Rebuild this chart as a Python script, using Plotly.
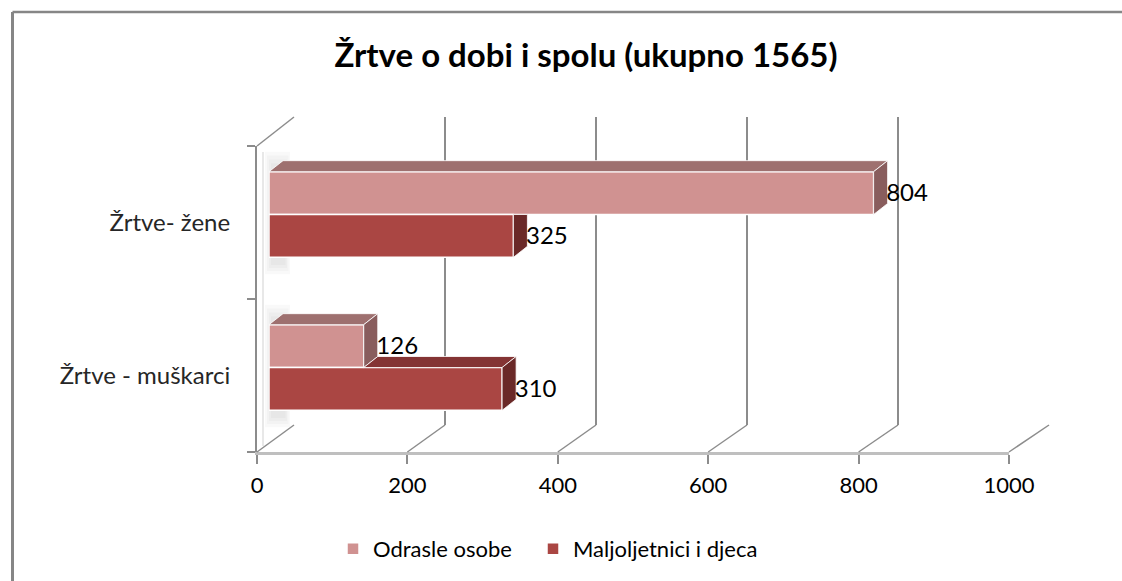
import plotly.graph_objects as go

# ---------------- data ----------------
categories = ["Žrtve - muškarci", "Žrtve- žene"]          # bottom -> top
series_names = ["Odrasle osobe", "Maljoljetnici i djeca"]
odrasle = [126, 804]
maljoljetnici = [310, 325]
x_ticks = [0, 200, 400, 600, 800, 1000]
title_text = "Žrtve o dobi i spolu (ukupno 1565)"

# ---------------- styling / geometry ----------------
W, H = 1122, 581
def fx(px):
    return px / W
def fy(py):
    return 1 - py / H

FONT = "Lato, 'Open Sans', sans-serif"
colors = {
    "Odrasle osobe": dict(front="#D09291", top="#9E706F", side="#895D5D"),
    "Maljoljetnici i djeca": dict(front="#AA4643", top="#843434", side="#6A2928"),
}

FRONT_X0, FRONT_X1 = 257, 1009
FRONT_Y0, FRONT_Y1 = 146, 452
BACK_X0, BACK_X1 = 294, 1049
BACK_Y0, BACK_Y1 = 117, 425
BAR_X0, BAR_X1 = 269, 1021
BAR_Y_TOP, BAR_Y_BOT = 130.35, 451.65
Y_RANGE = [-0.55, 1.55]
X_MAX = 1000
DEPTH_PX, DEPTH_PY = 14, 11
BAR_W = 0.28
LEGEND_X = {"Odrasle osobe": 333, "Maljoljetnici i djeca": 533}
LEGEND_ID = {"Odrasle osobe": "legend", "Maljoljetnici i djeca": "legend2"}

px_per_x = (BAR_X1 - BAR_X0) / X_MAX
px_per_y = (BAR_Y_BOT - BAR_Y_TOP) / (Y_RANGE[1] - Y_RANGE[0])
dx = DEPTH_PX / px_per_x
dy = DEPTH_PY / px_per_y

def front_px(v):
    return FRONT_X0 + v * (FRONT_X1 - FRONT_X0) / X_MAX
def back_px(v):
    return BACK_X0 + v * (BACK_X1 - BACK_X0) / X_MAX

pos = list(range(len(categories)))
GRID = "#8C8C8C"

fig = go.Figure()

fig.add_trace(go.Scatter(x=[None], y=[None], xaxis="x", yaxis="y",
                         showlegend=False, hoverinfo="skip"))
fig.add_trace(go.Scatter(x=[None], y=[None], xaxis="x2", yaxis="y2",
                         showlegend=False, hoverinfo="skip"))

offsets = {"Odrasle osobe": 0.0, "Maljoljetnici i djeca": -BAR_W}
values = {"Odrasle osobe": odrasle, "Maljoljetnici i djeca": maljoljetnici}
for name in series_names:
    fig.add_trace(go.Bar(
        x=values[name], y=pos, orientation="h", name=name,
        width=BAR_W, offset=offsets[name],
        marker=dict(color=colors[name]["front"], line=dict(color="white", width=1.5)),
        xaxis="x3", yaxis="y3", hoverinfo="skip", legend=LEGEND_ID[name],
    ))

def add_poly(xs, ys, color):
    fig.add_trace(go.Scatter(
        x=xs, y=ys, fill="toself", mode="lines", fillcolor=color,
        line=dict(color="rgba(255,255,255,0.8)", width=1),
        xaxis="x3", yaxis="y3", showlegend=False, hoverinfo="skip"))

for i, p in enumerate(pos):
    vo = odrasle[i]
    vm = maljoljetnici[i]
    yb = p + offsets["Odrasle osobe"]
    yt = yb + BAR_W
    c = colors["Odrasle osobe"]
    add_poly([0, vo, vo + dx, dx, 0], [yt, yt, yt + dy, yt + dy, yt], c["top"])
    add_poly([vo, vo, vo + dx, vo + dx, vo], [yb, yt, yt + dy, yb + dy, yb], c["side"])
    yb = p + offsets["Maljoljetnici i djeca"]
    yt = yb + BAR_W
    c = colors["Maljoljetnici i djeca"]
    if vm > vo:
        add_poly([vo, vm, vm + dx, vo + dx, vo], [yt, yt, yt + dy, yt + dy, yt], c["top"])
        add_poly([vm, vm, vm + dx, vm + dx, vm], [yb, yt, yt + dy, yb + dy, yb], c["side"])
    else:
        add_poly([vm, vm, vm + dx, vm + dx, vm], [yb, yt, yt, yb + dy, yb], c["side"])

for name in series_names:
    vals = values[name]
    fig.add_trace(go.Scatter(
        x=[v + dx * 0.9 for v in vals],
        y=[p + offsets[name] + BAR_W / 2 - 0.012 for p in pos],
        mode="text", text=[str(v) for v in vals], textposition="middle right",
        textfont=dict(family=FONT, size=24, color="black"),
        xaxis="x3", yaxis="y3", showlegend=False, hoverinfo="skip"))

# ---------------- shapes: 3D frame ----------------
shapes = []
for v in x_ticks:
    shapes.append(dict(type="line", xref="paper", yref="paper",
                       x0=fx(front_px(v)), y0=fy(FRONT_Y1),
                       x1=fx(back_px(v)), y1=fy(BACK_Y1),
                       line=dict(color=GRID, width=1.5)))
shapes.append(dict(type="line", xref="paper", yref="paper",
                   x0=fx(FRONT_X0), y0=fy(FRONT_Y0), x1=fx(BACK_X0), y1=fy(BACK_Y0),
                   line=dict(color=GRID, width=1.5)))
shapes.append(dict(type="line", xref="paper", yref="paper",
                   x0=fx(263), y0=fy(FRONT_Y0 + 6), x1=fx(263), y1=fy(FRONT_Y1 - 6),
                   line=dict(color="#E8E8E8", width=2), layer="below"))
for p in pos:
    top = p + BAR_W + 0.13
    bot = p - BAR_W - 0.11
    for k in range(4):
        shapes.append(dict(type="rect", xref="paper", yref="y3",
                           x0=fx(265 + 2 * k), x1=fx(290 - 1.5 * k),
                           y0=bot + 0.02 * k, y1=top - 0.025 * k,
                           fillcolor="rgba(0,0,0,0.025)", line=dict(width=0), layer="below"))
shapes.append(dict(type="line", xref="paper", yref="paper",
                   x0=fx(12.5), y0=fy(12), x1=1, y1=fy(12),
                   line=dict(color="#868686", width=2.5)))
shapes.append(dict(type="line", xref="paper", yref="paper",
                   x0=fx(12.5), y0=fy(12), x1=fx(12.5), y1=0,
                   line=dict(color="#868686", width=3)))

legend_common = dict(orientation="h", xanchor="left", y=fy(549), yanchor="middle",
                     font=dict(family=FONT, size=22, color="black"), itemwidth=30,
                     bgcolor="rgba(0,0,0,0)")

fig.update_layout(
    width=W, height=H, autosize=False,
    margin=dict(l=0, r=0, t=0, b=0, pad=0, autoexpand=False),
    paper_bgcolor="white", plot_bgcolor="rgba(0,0,0,0)",
    barmode="overlay",
    font=dict(family=FONT, size=22, color="black"),
    title=dict(text="<b>" + title_text + "</b>", x=fx(586), xanchor="center",
               y=fy(55), yanchor="middle", yref="paper",
               font=dict(family=FONT, size=33, color="black")),
    showlegend=True,
    legend=dict(x=fx(LEGEND_X["Odrasle osobe"]), **legend_common),
    legend2=dict(x=fx(LEGEND_X["Maljoljetnici i djeca"]), **legend_common),
    shapes=shapes,
    xaxis=dict(domain=[fx(BACK_X0), fx(BACK_X1)], range=[0, X_MAX], anchor="y",
               tickvals=x_ticks, showticklabels=False, ticks="", showgrid=True,
               gridcolor=GRID, gridwidth=2, zeroline=False, showline=False, fixedrange=True),
    yaxis=dict(domain=[fy(BACK_Y1), fy(BACK_Y0)], range=[0, 1], anchor="x",
               showgrid=False, zeroline=False, showticklabels=False, showline=False),
    xaxis2=dict(domain=[fx(FRONT_X0), fx(FRONT_X1)], range=[0, X_MAX], anchor="y2",
                tickvals=x_ticks, ticks="outside", ticklen=9, tickwidth=2, tickcolor=GRID,
                showline=True, linecolor="#BFBFBF", linewidth=3, showgrid=False, zeroline=False,
                tickfont=dict(family=FONT, size=22, color="black"), ticklabelstandoff=3,
                automargin=False),
    yaxis2=dict(domain=[fy(FRONT_Y1), fy(FRONT_Y0)], range=[-0.5, len(categories) - 0.5],
                anchor="x2", tickvals=pos, ticktext=categories, ticks="", showgrid=False,
                zeroline=False, showline=True, linecolor=GRID, linewidth=2,
                tickfont=dict(family=FONT, size=24, color="#262626"), ticklabelstandoff=20,
                automargin=False,
                minor=dict(tickvals=[p - 0.5 for p in pos] + [pos[-1] + 0.5],
                           ticks="outside", ticklen=8, tickwidth=2, tickcolor=GRID, showgrid=False)),
    xaxis3=dict(domain=[fx(BAR_X0), fx(BAR_X1)], range=[0, X_MAX], anchor="y3", visible=False),
    yaxis3=dict(domain=[fy(BAR_Y_BOT), fy(BAR_Y_TOP)], range=Y_RANGE, anchor="x3", visible=False),
)

fig.write_html(
    "out.html",
    config={"responsive": False, "displayModeBar": False},
    default_width="1122px", default_height="581px",
    post_script="document.documentElement.style.overflow='hidden';"
                "document.body.style.margin='0';document.body.style.overflow='hidden';",
)
